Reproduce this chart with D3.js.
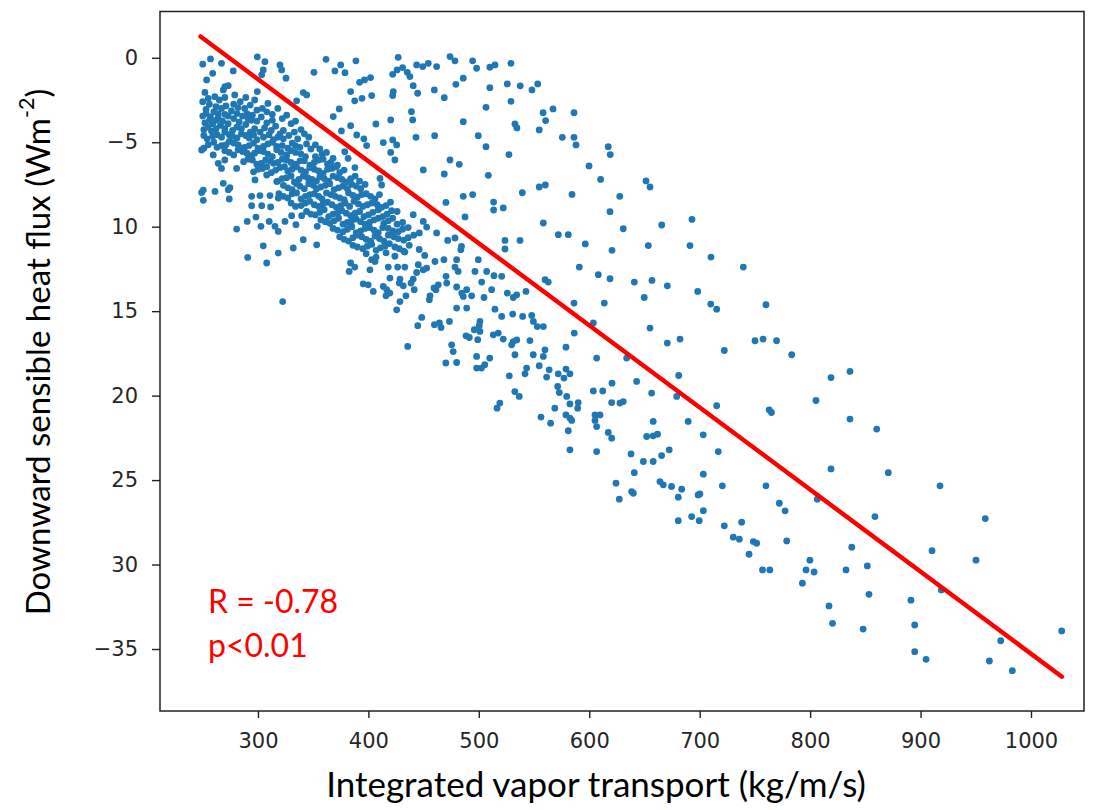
<!DOCTYPE html>
<html><head><meta charset="utf-8">
<script src="https://cdn.jsdelivr.net/npm/d3@7"></script>
<style>body{margin:0;background:#fff}svg{display:block}</style>
</head><body>
<svg id="c" width="1114" height="810"></svg>
<script>
// ---------- data ----------
const xTicks = [300,400,500,600,700,800,900,1000];
const yTicks = [0,-5,-10,-15,-20,-25,-30,-35];
const yTickLabels = ["0","\u22125","10","15","20","25","30","\u221235"];
const xTitle = "Integrated vapor transport (kg/m/s)";
const yTitleMain = "Downward sensible heat flux (Wm";
const yTitleSup = "-2";
const statLines = ["R = -0.78","p<0.01"];
const fitX = [248, 1028];
const fitY = [1.26, -36.64];

const upperLeft = [[250,-0.38],[257,-0.07],[267,-0.33],[259,-0.92],[253.5,-1.31],[277.6,-0.78],[299.4,0.05],[306.3,-0.23],[304.8,-0.72],[303.4,-1.01],[319.9,-0.42],[321.5,-0.72],[325.4,-1.21],[350.7,-0.86],[270.1,-1.71],[273.1,-1.65],[268.6,-1.9],[299.4,-2.0],[341,-2.06],[344.1,-2.2],[335,-2.55],
[249,-5.46],[259.5,-5.75],[264,-6.25],[267,-6.55],[270,-6.05],[280.7,-6.55],[297.3,-7.23],[307.9,-6.94],[317,-7.33],[268.6,-7.43],[274.6,-7.69],[250.5,-7.83]];

const upperMid = [[361.6,-0.09],[374.9,-0.42],[369.7,-0.78],[378.8,-0.88],[388.7,-0.18],[427,0.03],[431,-0.58],[426,-0.72],[422,-0.98],[435.2,-0.86],[437.6,-1.11],[443.7,-0.42],[449.2,-0.52],[454.2,-0.33],[461.8,-0.52],[473.9,0.07],[478.4,-0.18],[494.4,-0.18],[498,-0.62],[485.9,-1.21],[479.2,-1.57],[392,-1.45],[396.5,-1.31],[401.9,-1.17],[440.6,-1.65],[444.6,-2.1],[422.5,-2.0],[422,-2.24],[383.9,-2.0],[387.6,-2.55],[394.2,-2.4],[403,-2.24],[459.7,-1.9],[468.7,-2.36],[439,-3.19],[440.1,-3.68],[373.6,-3.03],[368.2,-3.48],[406.8,-3.92],[420.2,-3.68],[485.9,-3.78],[443.1,-4.71],[460,-4.61],[499.5,-4.61],[383.9,-4.02],[375.6,-4.33],[389.4,-4.57],[395.9,-4.8],[398.4,-5.2],[413.5,-5.02],[422,-4.86],[425.6,-5.16],[420.2,-5.6],[424,-6.05],[473.9,-6.05],[482.3,-6.31],[449.7,-6.64],[468.7,-6.88],[387.8,-6.5],[410.5,-7.14],[412,-7.53],[381.6,-5.95],[378.6,-5.56]];

const upperRight = [[510,-0.56],[514.6,-0.42],[529.1,-0.33],[510,-1.77],[525.8,-1.55],[537.5,-1.66],[548.1,-1.9],[553.3,-1.55],[506.5,-2.93],[529.1,-2.58],[558.2,-3.25],[560.5,-3.72],[567.2,-3.03],[586.2,-3.25],[532.7,-3.92],[534.5,-4.15],[554.7,-4.27],[575.6,-4.71],[586.2,-4.71],[588,-5.16],[506.5,-5.26],[527.3,-5.73],[617.2,-5.26],[619,-5.73],[599.8,-6.4],[508.6,-6.96],[610.3,-7.2],[651.4,-7.29],[655,-7.65],[554.7,-7.65],[560.2,-7.53],[539.4,-7.99],[584.4,-8.09],[627.6,-8.2],[513.4,-8.54],[513.4,-9.01],[522.1,-8.89],[618.8,-9.11],[558.4,-9.78],[630.8,-10.12],[665.6,-9.9],[693,-9.57],[572,-10.47],[581,-10.47],[523.7,-10.81],[537.3,-10.81],[523.7,-11.32],[596.4,-11.02],[653.5,-11.12],[691.2,-11.12],[620.6,-11.4]];

const middleBand = [[710.2,-11.8],[739.5,-12.39],[591,-12.39],[608.2,-12.84],[618.8,-13.08],[640.8,-13.28],[656.8,-13.18],[670.7,-13.5],[698.2,-13.83],[649.8,-14.19],[710,-14.58],[715.4,-14.88],[760,-14.62],[613.6,-14.52],[586.2,-14.52],[560,-13.14],[562.9,-13.28],[542.7,-13.83],[534.3,-14.03],[531.2,-14.19],[525.8,-13.93],[511.6,-13.73],[504.7,-14.19],[513.7,-12.9],[520.7,-12.94],[507.1,-12.65],[502.6,-13.28],[514.6,-14.88],[520.7,-15.31],[530.7,-15.17],[539.7,-15.31],[547.9,-15.25],[549.4,-15.61],[552.9,-15.91],[558.4,-15.91],[603.7,-15.7],[586.4,-16.3],[655,-16.0],[670.7,-16.89],[682.2,-16.65],[722.3,-17.33],[750.1,-16.75],[757.4,-16.65],[769.6,-16.75],[501,-15.61],[501,-16.2],[513.1,-16.4],[517.6,-16.3],[522.1,-16.65],[531.2,-16.8],[534.3,-16.7],[529.7,-16.99],[546.3,-16.74],[532.7,-17.58],[549.3,-17.58],[558.4,-17.68],[559.9,-17.29],[578.9,-17.13],[606.7,-17.78],[633.9,-17.78],[509.9,-17.78],[505.4,-18.17],[502.4,-18.37],[543.3,-18.37],[541.8,-18.71],[554.7,-18.23],[563.7,-18.47],[561.4,-18.9],[571.9,-18.71],[578.9,-18.43],[582.5,-18.71],[577.1,-18.96],[527.6,-18.83],[642.9,-19.16],[681,-18.81],[620.6,-19.26],[571.4,-19.46],[572.9,-19.82],[532.6,-19.76],[536.6,-20.05],[579.6,-20.05],[582.5,-20.49],[590,-20.41],[589.5,-20.74],[603.7,-19.72],[612.2,-19.72],[656.5,-19.85],[679.2,-20.05],[620.3,-20.41],[627.8,-20.44],[630.8,-20.35],[715.4,-20.6],[762.9,-20.84],[765,-21],[519,-20.44],[516.5,-20.74],[568.8,-20.74],[556.3,-21.27],[565,-21.63],[578.9,-21.14],[582.5,-21.33],[584.1,-21.47],[605.2,-21.14],[609.7,-21.14],[605.2,-21.47],[606.7,-21.83],[581,-22.08],[617.2,-22.18],[620.3,-22.52],[657.9,-21.53],[689.6,-21.53],[703.2,-22.32],[652,-22.42],[657.9,-22.38],[661.8,-22.28],[582.5,-23.21],[606.7,-23.31],[637.8,-23.45],[649,-23.9],[657.9,-23.9],[665.5,-23.55],[672.4,-23.21],[716.8,-23.31],[640.8,-24.56],[703.3,-24.65],[624.2,-25.18],[664,-25.09],[667,-25.28],[674.5,-25.38],[683.7,-25.54],[720.5,-25.34],[760,-25.34]];

const lowerBand = [[627.2,-26.13],[638.4,-25.68],[639.9,-25.78],[680.6,-26.01],[698.6,-25.88],[700.2,-25.82],[772.1,-26.37],[680.6,-27.4],[692.7,-27.16],[699.6,-27.4],[703.3,-26.81],[722.3,-27.71],[738,-27.49],[730.4,-28.38],[735.9,-28.5],[748.6,-28.64],[751.6,-28.74],[744.7,-29.39],[756.9,-30.32],[763.5,-30.32],
[783.3,-17.58],[818.9,-18.93],[836.1,-18.57],[805.3,-20.29],[836.1,-21.39],[860.3,-21.98],
[818.9,-24.34],[870.8,-24.56],[917.6,-25.34],[777.3,-26.82],[806.5,-26.13],[858.7,-27.16],[958.6,-27.28],[778.8,-28.6],[837.7,-28.97],[910.4,-29.18],[950.2,-29.74],[799.8,-29.74],[796.3,-30.32],[803.6,-30.44],[832.5,-30.32],[851.8,-30.08],[793,-31.1],[853.3,-31.76],[891.3,-32.11],[918.8,-31.5],[817.1,-32.45],[820.3,-33.48],[848,-33.82],[894.7,-33.58],[1027.8,-33.93],[972.6,-34.51],[894.7,-35.16],[905,-35.61],[962.3,-35.71],[983.1,-36.28]];

const diagonalBand = [[470.2,-8.56],[485.9,-8.2],[494.4,-8.1],[487.5,-9.42],[440.6,-9.29],[449.7,-9.69],[446.1,-10.37],[452.8,-10.02],[461.8,-10.37],[471.8,-10.81],[478.4,-10.67],[484.3,-11.17],[483.7,-11.36],[499.5,-11.95],[496.5,-12.65],[479.9,-11.95],[478.4,-12.39],[481.3,-12.65],[468.4,-11.95],[460.3,-12.06],[470.3,-12.94],[470.9,-13.34],[445.2,-12.25],[449.7,-12.55],[452.8,-12.45],[443.7,-12.71],[440.6,-13.1],[438.6,-13.34],[441.5,-13.73],[426.5,-12.39],[433,-12.39],[418,-12.39],[419.5,-13.04],[428.6,-13.1],[431.6,-13.5],[428,-13.34],[403,-11.95],[406,-12.06],[401.4,-12.55],[383.9,-12.15],[387.7,-12.39],[382.6,-12.65],[395.3,-13.38],[399.8,-13.44],[404.4,-13.83],[413.5,-13.54],[416.6,-13.73],[419.4,-13.93],[415.9,-14.09],[434,-14.09],[428.6,-14.43],[425.6,-14.92],[455.8,-14.09],[455.2,-14.32],[459.4,-13.63],[463.3,-13.44],[461.2,-13.73],[479.9,-13.57],[484.5,-13.93],[485.9,-14.13],[489,-13.73],[493.5,-14.09],[479.9,-14.82],[489,-14.82],[448.3,-15.37],[444.7,-15.86],[459.8,-15.8],[464.3,-15.7],[465.8,-15.97],[473.4,-15.61],[488.4,-16.46],[491.4,-16.56],[495.9,-16.1],[500.4,-15.86],[499,-16.69],[435.6,-17.09],[475.4,-16.99],[476.8,-17.39],[470.1,-18.07],[479.9,-18.04],[498,-17.68],[498,-18.37],
[249,-7.97],[250.5,-8.44],[261.1,-7.91],[273.1,-7.81],[274,-8.36],[294.3,-8.2],[294.3,-8.76],[303.4,-8.76],[311.5,-8.83],[318.4,-8.3],[301.8,-8.16],[310.9,-8.16],[280.7,-10.14],[290.3,-9.69],[298.2,-9.43],[302.7,-9.98],[310.2,-9.69],[315.4,-9.98],[318.4,-10.28],[324.5,-9.69],[330.5,-9.35],[334.4,-9.88],[339.6,-9.35],[341,-10.77],[332,-11.26],[353.2,-11.07],[353.7,-9.98],[304.8,-11.13],[318.4,-11.56],[290.7,-11.82],[307.9,-12.15],[322.4,-14.43]];

const coreCluster = [[252,-2.05],[261,-2.3],[279,-2.2],[289,-2.35],[250,-2.6],
[256,-2.75],[265,-2.5],[271,-2.85],[284,-2.6],[293,-2.8],[309,-2.7],[253,-3.05],
[260,-3.2],[267,-3.0],[276,-3.15],[282,-2.95],[290,-3.3],[299,-3.1],[318,-3.0],[250,-3.45],[257,-3.5],[313,-3.35],
[264,-3.55],[270,-3.35],[278,-3.6],[286,-3.45],[294,-3.7],[303,-3.5],[326,-3.4],[252,-3.85],[259,-3.9],[308,-3.85],[334,-3.75],
[266,-4.0],[273,-3.9],[281,-4.1],[289,-3.95],[297,-4.2],[316,-4.05],[323,-4.3],[251,-4.25],[258,-4.35],[302,-4.4],[339,-4.25],
[263,-4.55],[270,-4.4],[277,-4.65],[285,-4.5],[292,-4.75],[310,-4.55],[318,-4.7],[328,-4.6],[254,-4.8],[299,-4.85],[346,-4.7],
[260,-5.0],[267,-5.2],[274,-4.95],[282,-5.15],[288,-5.3],[296,-5.05],[305,-5.25],[313,-5.0],[322,-5.2],[331,-5.05],[338,-5.3],[251,-5.35],[352,-5.15],
[270,-5.5],[278,-5.75],[286,-5.55],[294,-5.8],[301,-5.5],[309,-5.7],[317,-5.45],[326,-5.75],[334,-5.6],[343,-5.85],[348,-5.4],[358,-5.7],
[291,-6.0],[299,-6.3],[307,-6.05],[314,-6.25],[322,-6.0],[330,-6.2],[338,-6.1],[347,-6.35],[355,-6.05],[363,-6.3],[368,-5.95],
[296,-6.75],[304,-6.55],[312,-6.8],[320,-6.5],[327,-6.7],[335,-6.45],[343,-6.75],[351,-6.6],[359,-6.85],[367,-6.55],[374,-6.8],
[318,-7.3],[326,-7.1],[333,-7.35],[341,-7.0],[349,-7.2],[356,-7.05],[364,-7.3],[372,-7.1],[380,-7.35],[388,-7.0],
[323,-7.55],[331,-7.8],[338,-7.6],[346,-7.45],[353,-7.75],[361,-7.55],[369,-7.8],[377,-7.6],[385,-7.5],[393,-7.75],
[319,-8.05],[327,-8.3],[335,-8.0],[343,-8.2],[351,-8.05],[358,-8.35],[366,-8.1],[374,-8.3],[382,-8.0],[390,-8.25],[398,-8.05],[406,-8.35],
[330,-8.6],[339,-8.75],[347,-8.5],[355,-8.8],[363,-8.55],[371,-8.85],[379,-8.6],[387,-8.5],[395,-8.8],[403,-8.6],[412,-8.85],[420,-8.55],
[344,-9.1],[352,-9.3],[360,-9.0],[368,-9.25],[376,-9.05],[384,-9.35],[392,-9.1],[400,-9.3],[409,-9.0],[417,-9.25],[426,-9.1],
[357,-9.6],[365,-9.8],[373,-9.5],[381,-9.75],[389,-9.55],[397,-9.85],[405,-9.6],[414,-9.8],[422,-9.5],[431,-9.75],
[368,-10.1],[377,-10.3],[385,-10.0],[393,-10.25],[401,-10.05],[409,-10.35],[418,-10.1],[427,-10.3],[436,-10.05],
[374,-10.6],[382,-10.85],[390,-10.5],[398,-10.75],[406,-10.55],[414,-10.85],[423,-10.6],[432,-10.8],[441,-10.5],
[386,-11.1],[395,-11.3],[403,-11.05],[411,-11.25],[419,-11.0],[428,-11.3],[437,-11.1],[446,-11.35],
[398,-11.6],[407,-11.8],[416,-11.55],[424,-11.75],[433,-11.5],[451,-11.7]];

const coreFill = [[255,-2.4],[270,-2.35],[297,-2.5],
[262,-2.9],[278,-2.75],[288,-3.0],[304,-3.0],
[253,-3.3],[264,-3.3],[273,-3.45],[281,-3.3],[295,-3.4],[308,-3.2],[322,-3.6],
[256,-3.7],[262,-3.7],[268,-3.75],[283,-3.8],[291,-3.6],[299,-3.75],[313,-3.7],[330,-3.9],
[255,-4.1],[262,-4.2],[270,-4.2],[277,-4.3],[285,-4.2],[293,-4.4],[306,-4.15],[312,-4.3],[320,-4.5],[333,-4.4],
[251,-4.6],[259,-4.65],[267,-4.7],[274,-4.55],[281,-4.75],[289,-4.6],[296,-4.55],[305,-4.7],[314,-4.85],[323,-4.8],[336,-4.8],[342,-4.5],
[255,-5.15],[263,-5.3],[271,-5.15],[278,-5.05],[285,-5.35],[292,-5.2],[300,-5.35],[309,-5.1],[317,-5.25],[327,-5.35],[334,-5.2],[344,-5.1],[356,-5.4],
[274,-5.6],[282,-5.45],[290,-5.65],[297,-5.65],[305,-5.55],[313,-5.85],[321,-5.6],[330,-5.5],[339,-5.7],[352,-5.85],[362,-5.6],
[287,-6.15],[295,-6.05],[303,-6.25],[311,-6.1],[318,-6.2],[326,-6.05],[334,-6.3],[342,-6.1],[351,-6.2],[359,-6.0],[366,-6.2],[372,-6.35],
[300,-6.6],[308,-6.45],[316,-6.65],[324,-6.45],[331,-6.6],[339,-6.65],[347,-6.5],[355,-6.7],[363,-6.6],[371,-6.45],[378,-6.65],
[322,-7.15],[330,-7.0],[337,-7.2],[345,-7.1],[353,-7.3],[360,-7.15],[368,-7.0],[376,-7.2],[384,-7.15],[392,-7.3],
[327,-7.7],[335,-7.45],[342,-7.75],[350,-7.55],[357,-7.65],[365,-7.45],[373,-7.7],[381,-7.75],[389,-7.6],[397,-7.5],
[323,-8.2],[331,-8.05],[339,-8.35],[347,-8.1],[355,-8.2],[362,-8.0],[370,-8.2],[378,-8.4],[386,-8.15],[394,-8.1],[402,-8.2],[410,-8.1],
[334,-8.8],[343,-8.6],[351,-8.7],[359,-8.65],[367,-8.7],[375,-8.75],[383,-8.8],[391,-8.65],[399,-8.7],[408,-8.7],[416,-8.75],
[348,-9.25],[356,-9.15],[364,-9.4],[372,-9.2],[380,-9.2],[388,-9.2],[396,-9.4],[404,-9.15],[413,-9.4],[421,-9.05],
[361,-9.7],[369,-9.65],[377,-9.85],[385,-9.65],[393,-9.7],[401,-9.75],[409,-9.5],[418,-9.65],[426,-9.85],
[372,-10.2],[381,-10.15],[389,-10.35],[397,-10.1],[405,-10.2],[413,-10.05],[422,-10.25],[431,-10.15],
[378,-10.75],[386,-10.65],[394,-10.6],[402,-10.85],[410,-10.7],[418,-10.5],[427,-10.7],[436,-10.65],
[390,-11.2],[399,-11.15],[407,-11.4],[415,-11.15],[424,-11.2],[432,-11.45]];

const points = [].concat(upperLeft, upperMid, upperRight, middleBand, lowerBand, diagonalBand, coreCluster, coreFill);

// ---------- chart ----------
const svg = d3.select("#c");
const x = d3.scaleLinear().domain([211.3, 1048]).range([160, 1084]);
const y = d3.scaleLinear().domain([2.74, -38.67]).range([11.5, 711]);

const tickFont = "'DejaVu Sans', sans-serif";
const titleFont = "Lato, 'Open Sans', sans-serif";

// dots
svg.append("g").selectAll("circle").data(points).join("circle")
  .attr("cx", d => x(d[0])).attr("cy", d => y(d[1]))
  .attr("r", 3.4).attr("fill", "#1f77b4");

// regression line
svg.append("line")
  .attr("x1", x(fitX[0])).attr("y1", y(fitY[0]))
  .attr("x2", x(fitX[1])).attr("y2", y(fitY[1]))
  .attr("stroke", "#ff0000").attr("stroke-width", 4.5).attr("stroke-linecap", "round");

// axes
const xAxis = svg.append("g").attr("transform", `translate(0,${y.range()[1]})`)
  .call(d3.axisBottom(x).tickValues(xTicks).tickSize(7).tickPadding(15).tickFormat(d3.format("d")));
const yAxis = svg.append("g").attr("transform", `translate(${x.range()[0]},0)`)
  .call(d3.axisLeft(y).tickValues(yTicks).tickSize(8).tickPadding(14).tickFormat((d,i) => yTickLabels[i]));
[xAxis, yAxis].forEach(g => {
  g.select(".domain").remove();
  g.selectAll(".tick line").attr("stroke", "#222").attr("stroke-width", 1.4);
  g.selectAll(".tick text").attr("font-family", tickFont).attr("font-size", 21).attr("fill", "#262626");
});

// frame
svg.append("rect")
  .attr("x", x.range()[0]).attr("y", y.range()[0])
  .attr("width", x.range()[1] - x.range()[0]).attr("height", y.range()[1] - y.range()[0])
  .attr("fill", "none").attr("stroke", "#222").attr("stroke-width", 1.5);

// x title
const xt = svg.append("text").attr("x", 596).attr("y", 797)
  .attr("text-anchor", "middle").attr("font-family", titleFont).attr("font-size", 30)
  .attr("fill", "#000").text(xTitle);
const xw = xt.node().getComputedTextLength();
xt.attr("font-size", 30 * 540 / xw);

// y title
const yt = svg.append("text").attr("transform", "translate(50,352) rotate(-90)")
  .attr("text-anchor", "middle").attr("font-family", titleFont).attr("font-size", 30).attr("fill", "#000");
yt.append("tspan").text(yTitleMain);
yt.append("tspan").attr("font-size", "0.65em").attr("dy", "-0.75em").text(yTitleSup);
yt.append("tspan").attr("dy", "0.49em").text(")");
const yw = yt.node().getComputedTextLength();
yt.attr("font-size", 30 * 527 / yw);

// stats text
svg.append("g").selectAll("text").data(statLines).join("text")
  .attr("x", 208).attr("y", (d,i) => 613 + i*44)
  .attr("font-family", titleFont).attr("font-size", 32).attr("fill", "#ff0000")
  .text(d => d);
</script>
</body></html>
